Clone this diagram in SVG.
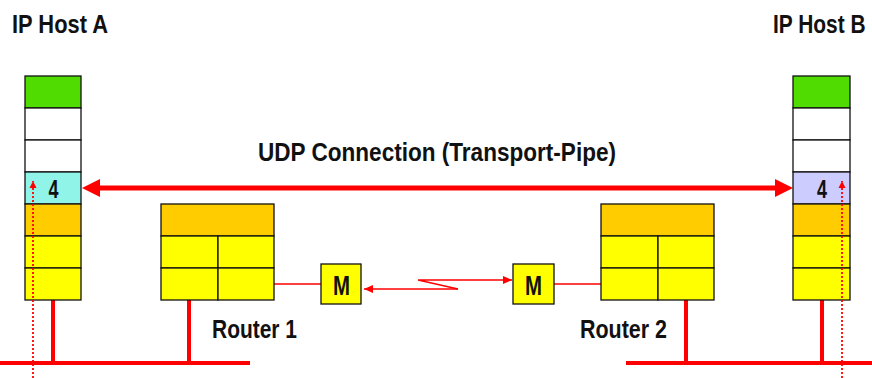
<svg xmlns="http://www.w3.org/2000/svg" width="872" height="378" viewBox="0 0 872 378">
  <defs>
    <style>
      text { font-family: "Liberation Sans Narrow", "Liberation Sans", Arial, sans-serif; fill: #111; font-weight: bold; }
      .lbl { font-size: 26px; }
      .num { font-size: 25px; }
      .mod { font-size: 28px; }
      .cell { stroke: #111; stroke-width: 1.3; }
      .green { fill: #50DC00; }
      .white { fill: #FFFFFF; }
      .cyan { fill: #90F4E8; }
      .lav { fill: #CCCCFF; }
      .orange { fill: #FFCC00; }
      .yellow { fill: #FFFF00; }
      .wire { stroke: #FF0000; stroke-width: 4; fill: none; }
      .thin { stroke: #FF0000; stroke-width: 1.5; fill: none; }
      .dots { stroke: #FF0000; stroke-width: 1.8; stroke-dasharray: 2 2; fill: none; }
    </style>
    <marker id="smallHead" markerWidth="10" markerHeight="8" refX="9" refY="4" orient="auto" markerUnits="userSpaceOnUse">
      <path d="M0,0 L9,4 L0,8 Z" fill="#FF0000"/>
    </marker>
    <marker id="dotHead" markerWidth="8" markerHeight="8" refX="7" refY="4" orient="auto" markerUnits="userSpaceOnUse">
      <path d="M0,0.5 L7,4 L0,7.5 Z" fill="#FF0000"/>
    </marker>
  </defs>

  <rect width="872" height="378" fill="#FFFFFF"/>

  <!-- Titles -->
  <text class="lbl" x="12" y="33" textLength="96" lengthAdjust="spacingAndGlyphs">IP Host A</text>
  <text class="lbl" transform="translate(773,33) scale(0.805,1)" x="0" y="0">IP Host B</text>
  <text class="lbl" x="258" y="161" textLength="358" lengthAdjust="spacingAndGlyphs">UDP Connection (Transport-Pipe)</text>

  <!-- Connectors -->
  <g id="connectors">
    <!-- LAN segments -->
    <line class="wire" x1="0" y1="363" x2="250" y2="363"/>
    <line class="wire" x1="626" y1="363" x2="872" y2="363"/>
    <line class="wire" x1="53" y1="300" x2="53" y2="363"/>
    <line class="wire" x1="189" y1="300" x2="189" y2="363"/>
    <line class="wire" x1="686" y1="300" x2="686" y2="363"/>
    <line class="wire" x1="822" y1="300" x2="822" y2="363"/>

    <!-- UDP transport pipe -->
    <line x1="98" y1="188" x2="777" y2="188" stroke="#FF0000" stroke-width="5"/>
    <polygon points="82,188 100,179 100,197" fill="#FF0000"/>
    <polygon points="793,188 775,179 775,197" fill="#FF0000"/>

    <!-- Router to modem links -->
    <line class="thin" x1="274" y1="284" x2="321" y2="284"/>
    <line class="thin" x1="554" y1="284" x2="601" y2="284"/>

    <!-- Modem line with zigzag -->
    <path class="thin" d="M458,289 L364,289" marker-end="url(#smallHead)"/>
    <path class="thin" d="M458,289 L418,280 L512,280" marker-end="url(#smallHead)"/>
  </g>

  <!-- Host A protocol stack -->
  <g id="hostA">
    <rect class="cell green" x="25" y="76" width="56" height="32"/>
    <rect class="cell white" x="25" y="108" width="56" height="32"/>
    <rect class="cell white" x="25" y="140" width="56" height="32"/>
    <rect class="cell cyan" x="25" y="172" width="56" height="32"/>
    <rect class="cell orange" x="25" y="204" width="56" height="32"/>
    <rect class="cell yellow" x="25" y="236" width="56" height="32"/>
    <rect class="cell yellow" x="25" y="268" width="56" height="32"/>
    <text class="num" x="53.5" y="198" text-anchor="middle" textLength="10" lengthAdjust="spacingAndGlyphs">4</text>
  </g>

  <!-- Host B protocol stack -->
  <g id="hostB">
    <rect class="cell green" x="793" y="76" width="57" height="32"/>
    <rect class="cell white" x="793" y="108" width="57" height="32"/>
    <rect class="cell white" x="793" y="140" width="57" height="32"/>
    <rect class="cell lav" x="793" y="172" width="57" height="32"/>
    <rect class="cell orange" x="793" y="204" width="57" height="32"/>
    <rect class="cell yellow" x="793" y="236" width="57" height="32"/>
    <rect class="cell yellow" x="793" y="268" width="57" height="32"/>
    <text class="num" x="822" y="198" text-anchor="middle" textLength="10" lengthAdjust="spacingAndGlyphs">4</text>
  </g>

  <!-- Router 1 -->
  <g id="router1">
    <rect class="cell orange" x="161" y="204" width="113" height="32"/>
    <rect class="cell yellow" x="161" y="236" width="57" height="32"/>
    <rect class="cell yellow" x="218" y="236" width="56" height="32"/>
    <rect class="cell yellow" x="161" y="268" width="57" height="32"/>
    <rect class="cell yellow" x="218" y="268" width="56" height="32"/>
    <text class="lbl" x="212" y="338" textLength="85" lengthAdjust="spacingAndGlyphs">Router 1</text>
  </g>

  <!-- Router 2 -->
  <g id="router2">
    <rect class="cell orange" x="601" y="204" width="113" height="32"/>
    <rect class="cell yellow" x="601" y="236" width="57" height="32"/>
    <rect class="cell yellow" x="658" y="236" width="56" height="32"/>
    <rect class="cell yellow" x="601" y="268" width="57" height="32"/>
    <rect class="cell yellow" x="658" y="268" width="56" height="32"/>
    <text class="lbl" x="580" y="338" textLength="87" lengthAdjust="spacingAndGlyphs">Router 2</text>
  </g>

  <!-- Modems -->
  <g id="modem1">
    <rect class="cell yellow" x="321" y="264" width="40" height="40"/>
    <text class="mod" x="341.5" y="295" text-anchor="middle" textLength="17" lengthAdjust="spacingAndGlyphs">M</text>
  </g>
  <g id="modem2">
    <rect class="cell yellow" x="513" y="264" width="41" height="40"/>
    <text class="mod" x="533.5" y="295" text-anchor="middle" textLength="17" lengthAdjust="spacingAndGlyphs">M</text>
  </g>

  <!-- Data path through the host stacks, drawn over the cells -->
  <g id="dataPath">
    <path class="dots" d="M33,378 L33,181" marker-end="url(#dotHead)"/>
    <path class="dots" d="M842,378 L842,181" marker-end="url(#dotHead)"/>
  </g>
</svg>
